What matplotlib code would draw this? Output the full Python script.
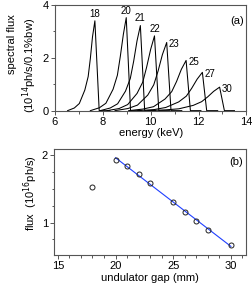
import matplotlib
matplotlib.use("Agg")
import matplotlib.pyplot as plt
import numpy as np
from matplotlib.ticker import MultipleLocator

plt.rcParams['font.family'] = ['Liberation Sans', 'DejaVu Sans']

# (a) spectra for each undulator gap (mm): energy (keV), flux (1e14 ph/s/0.1%bw)
gaps_a = [18, 20, 21, 22, 23, 25, 27, 30]
spec_e = {
    18: [6.53, 6.81, 7.02, 7.25, 7.39, 7.48, 7.57, 7.67, 7.85, 8.30],
    20: [7.48, 7.86, 8.13, 8.43, 8.61, 8.73, 8.86, 8.98, 9.16, 9.60],
    21: [7.89, 8.31, 8.62, 8.95, 9.15, 9.29, 9.43, 9.57, 9.75, 10.20],
    22: [8.18, 8.68, 9.04, 9.43, 9.67, 9.83, 10.00, 10.16, 10.34, 10.80],
    23: [8.51, 9.05, 9.45, 9.88, 10.13, 10.31, 10.49, 10.67, 10.85, 11.30],
    25: [9.08, 9.68, 10.12, 10.60, 10.88, 11.08, 11.28, 11.48, 11.66, 12.10],
    27: [9.46, 10.14, 10.63, 11.17, 11.49, 11.71, 11.94, 12.16, 12.34, 12.80],
    30: [9.88, 10.63, 11.18, 11.78, 12.13, 12.38, 12.63, 12.88, 13.08, 13.50],
}
spec_f = {
    18: [0, 0.10, 0.27, 0.78, 1.29, 1.97, 2.79, 3.40, 0, 0],
    20: [0, 0.11, 0.28, 0.81, 1.34, 2.04, 2.89, 3.52, 0, 0],
    21: [0, 0.10, 0.26, 0.74, 1.22, 1.87, 2.64, 3.22, 0, 0],
    22: [0, 0.08, 0.23, 0.65, 1.08, 1.64, 2.32, 2.83, 0, 0],
    23: [0, 0.08, 0.21, 0.59, 0.98, 1.50, 2.12, 2.58, 0, 0],
    25: [0, 0.06, 0.15, 0.44, 0.72, 1.10, 1.56, 1.90, 0, 0],
    27: [0, 0.04, 0.12, 0.33, 0.55, 0.84, 1.19, 1.45, 0, 0],
    30: [0, 0.03, 0.07, 0.20, 0.34, 0.52, 0.73, 0.89, 0, 0],
}
labels_above = [18, 20, 21, 22]

# (b) integrated flux (1e16 ph/s) vs gap (mm)
gap_b = [18, 20, 21, 22, 23, 25, 26, 27, 28, 30]
flux_b = [1.53, 1.93, 1.83, 1.72, 1.59, 1.30, 1.16, 1.02, 0.89, 0.67]
fit_from = 20

fig = plt.figure(figsize=(2.53, 2.83), dpi=100)
ax1 = fig.add_axes([0.217, 0.609, 0.757, 0.3735])
ax2 = fig.add_axes([0.215, 0.099, 0.757, 0.373])

spine_col = '#555555'
for ax in (ax1, ax2):
    for s in ax.spines.values():
        s.set_color(spine_col)
        s.set_linewidth(0.8)
    ax.tick_params(which='both', direction='out', labelsize=8, color=spine_col,
                   width=0.7, pad=1.5)
    ax.tick_params(which='major', length=3)
    ax.tick_params(which='minor', length=1.8)

# panel (a)
for g in gaps_a:
    e = spec_e[g]
    f = spec_f[g]
    ax1.plot(e, f, color='black', lw=0.75)
    ip = int(np.argmax(f))
    if g in labels_above:
        ax1.annotate(str(g), (e[ip], f[ip]), xytext=(0, 1.5),
                     textcoords='offset points', ha='center', va='bottom',
                     fontsize=7)
    else:
        ax1.annotate(str(g), (e[ip], f[ip]), xytext=(1.5, -1),
                     textcoords='offset points', ha='left', va='center',
                     fontsize=7)
ax1.set_xlim(6, 14)
ax1.set_ylim(0, 4)
ax1.xaxis.set_major_locator(MultipleLocator(2))
ax1.xaxis.set_minor_locator(MultipleLocator(1))
ax1.yaxis.set_major_locator(MultipleLocator(2))
ax1.yaxis.set_minor_locator(MultipleLocator(1))
ax1.set_xlabel('energy (keV)', fontsize=8, labelpad=1)
ax1.text(0.985, 0.9, '(a)', transform=ax1.transAxes, ha='right', va='top',
         fontsize=8)
fig.text(0.047, 0.845, 'spectral flux', rotation=90, ha='center', va='center',
         fontsize=8)
fig.text(0.119, 0.767, '(10$^{14}$ph/s/0.1%bw)', rotation=90, ha='center',
         va='center', fontsize=8)

# panel (b)
gb = np.array(gap_b)
fb = np.array(flux_b)
m = gb >= fit_from
p = np.polyfit(gb[m], fb[m], 1)
xf = np.array([gb[m].min(), gb[m].max()])
ax2.plot(xf, np.polyval(p, xf), color='#1f3fff', lw=0.8)
ax2.plot(gb, fb, 'o', mfc='none', mec='#222222', ms=3.6, mew=0.7)
ax2.set_xlim(14.7, 31.3)
ax2.set_ylim(0.52, 2.08)
ax2.xaxis.set_major_locator(MultipleLocator(5))
ax2.xaxis.set_minor_locator(MultipleLocator(1))
ax2.yaxis.set_major_locator(MultipleLocator(1))
ax2.yaxis.set_minor_locator(MultipleLocator(0.25))
ax2.set_xlabel('undulator gap (mm)', fontsize=8, labelpad=1)
ax2.text(0.985, 0.93, '(b)', transform=ax2.transAxes, ha='right', va='top',
         fontsize=8)
fig.text(0.123, 0.318, 'flux  (10$^{16}$ph/s)', rotation=90, ha='center',
         va='center', fontsize=8)

fig.savefig('out.png', dpi=100)
